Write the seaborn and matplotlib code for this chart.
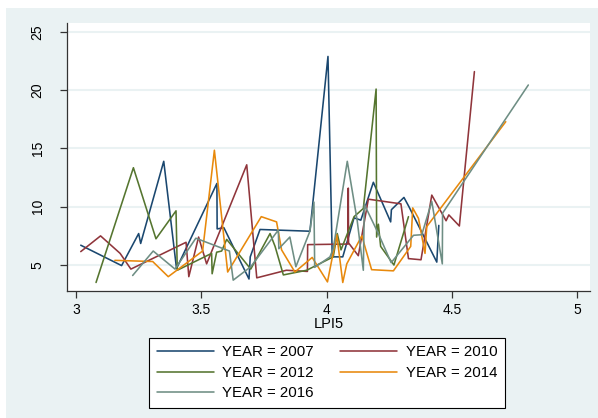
import matplotlib
matplotlib.use("Agg")
import matplotlib.pyplot as plt
from matplotlib.patches import Rectangle
import seaborn as sns
import pandas as pd

# LPI5 score and the charted value, one pair of arrays per survey year
lpi_2007 = [3.019, 3.182, 3.250, 3.258, 3.350, 3.401, 3.562, 3.563, 3.590, 3.690,
            3.695, 3.734, 3.933, 4.005, 4.022, 4.064, 4.109, 4.136, 4.186, 4.255,
            4.258, 4.308, 4.328, 4.439, 4.447]
val_2007 = [6.7, 4.95, 7.7, 6.85, 13.9, 4.7, 12.0, 8.1, 8.2, 3.8,
            5.7, 8.05, 7.9, 22.9, 5.7, 5.7, 9.05, 8.85, 12.1, 8.7,
            9.75, 10.8, 10.0, 5.25, 8.4]

lpi_2010 = [3.019, 3.098, 3.176, 3.219, 3.439, 3.450, 3.489, 3.521, 3.681, 3.721,
            3.839, 3.923, 3.924, 4.085, 4.086, 4.087, 4.126, 4.166, 4.296, 4.326,
            4.376, 4.419, 4.476, 4.487, 4.529, 4.589]
val_2010 = [6.15, 7.5, 6.0, 4.65, 6.95, 4.0, 7.4, 5.1, 13.6, 3.9,
            4.55, 4.45, 6.75, 6.8, 11.6, 6.9, 5.8, 10.65, 10.25, 5.55,
            5.45, 11.0, 8.8, 9.3, 8.35, 21.6]

lpi_2012 = [3.080, 3.229, 3.319, 3.399, 3.404, 3.541, 3.543, 3.561, 3.581, 3.601,
            3.697, 3.774, 3.794, 3.827, 3.920, 4.026, 4.042, 4.057, 4.109, 4.146,
            4.197, 4.199, 4.206, 4.215, 4.268, 4.326]
val_2012 = [3.5, 13.35, 7.25, 9.65, 4.55, 6.0, 4.25, 6.1, 6.2, 7.2,
            4.65, 7.7, 6.6, 4.15, 4.55, 5.7, 7.7, 6.3, 9.15, 9.85,
            20.1, 7.4, 8.5, 6.6, 5.0, 9.15]

lpi_2014 = [3.155, 3.306, 3.368, 3.505, 3.552, 3.605, 3.739, 3.800, 3.820, 3.873,
            3.942, 4.003, 4.040, 4.064, 4.080, 4.140, 4.179, 4.266, 4.335, 4.343,
            4.366, 4.392, 4.399, 4.714]
val_2014 = [5.4, 5.3, 4.0, 6.2, 14.85, 4.4, 9.15, 8.7, 6.3, 4.4,
            5.65, 3.55, 7.6, 3.5, 5.1, 7.5, 4.6, 4.5, 6.6, 9.9,
            9.0, 6.0, 8.3, 17.3]

lpi_2016 = [3.226, 3.308, 3.395, 3.478, 3.612, 3.627, 3.697, 3.807, 3.809, 3.853,
            3.877, 3.933, 3.949, 3.952, 4.013, 4.026, 4.082, 4.121, 4.146, 4.150,
            4.207, 4.257, 4.346, 4.379, 4.419, 4.461, 4.462, 4.804]
val_2016 = [4.1, 6.2, 4.65, 7.3, 6.2, 3.7, 4.85, 8.0, 6.4, 7.4,
            4.85, 7.9, 10.4, 4.8, 5.7, 6.4, 13.9, 8.9, 4.55, 10.2,
            7.65, 5.2, 7.55, 7.6, 10.45, 5.1, 9.45, 20.45]

years = [2007, 2010, 2012, 2014, 2016]
colors = ["#1a476f", "#90353b", "#55752f", "#e8890c", "#6e8e84"]
x_ticks = [3, 3.5, 4, 4.5, 5]
x_tick_labels = ["3", "3.5", "4", "4.5", "5"]
y_ticks = [5, 10, 15, 20, 25]

series = {2007: (lpi_2007, val_2007), 2010: (lpi_2010, val_2010),
          2012: (lpi_2012, val_2012), 2014: (lpi_2014, val_2014),
          2016: (lpi_2016, val_2016)}

rows = []
for yr in years:
    xs, vs = series[yr]
    for a, b in zip(xs, vs):
        rows.append({"LPI5": a, "value": b, "YEAR": f"YEAR = {yr}"})
df = pd.DataFrame(rows)
labels = [f"YEAR = {yr}" for yr in years]
palette = dict(zip(labels, colors))

sns.set_style("white")
plt.rcParams["font.family"] = ["Liberation Sans", "DejaVu Sans"]
plt.rcParams["text.color"] = "black"

bg = "#eaf2f3"
fig = plt.figure(figsize=(5.98, 4.18), dpi=100, facecolor="white")
fig.patches.append(Rectangle((6 / 598, 0), 1, 1 - 8 / 418, transform=fig.transFigure,
                             facecolor=bg, edgecolor="none", zorder=-10))
ax = fig.add_axes([66.7 / 598, 1 - 291 / 418, (590 - 66.7) / 598, (291 - 23) / 418])
ax.set_zorder(1)
ax.set_facecolor("white")

sns.lineplot(data=df, x="LPI5", y="value", hue="YEAR", hue_order=labels,
             palette=palette, estimator=None, sort=True, linewidth=1.15, ax=ax)

ax.set_xlim(2.963, 5.05)
ax.set_ylim(2.77, 25.77)
ax.set_xticks(x_ticks)
ax.set_yticks(y_ticks)
ax.grid(axis="y", color=bg, linewidth=1.5)
ax.grid(axis="x", visible=False)
ax.set_axisbelow(True)
for s in ["top", "right"]:
    ax.spines[s].set_visible(False)
for s in ["left", "bottom"]:
    ax.spines[s].set_color("#333333")
    ax.spines[s].set_linewidth(0.9)
ax.tick_params(axis="both", which="major", length=5, width=0.9, color="#333333",
               labelsize=10, labelcolor="black", left=True, bottom=True)
ax.tick_params(axis="y", pad=16)
ax.tick_params(axis="x", pad=4)
ax.set_xticklabels(x_tick_labels)
ax.set_yticklabels([str(t) for t in y_ticks], rotation=90, ha="center", va="center")
ax.set_xlabel("LPI5", fontsize=10.5, labelpad=0, color="black")
ax.set_ylabel("")

handles, labs = ax.get_legend_handles_labels()
ax.get_legend().remove()
# matplotlib fills legend columns first; order so rows read 2007/2010, 2012/2014, 2016
order = [0, 2, 4, 1, 3]
leg = fig.legend([handles[i] for i in order], [labs[i] for i in order], ncol=2,
                 loc="upper left", bbox_to_anchor=(149 / 598, 1 - 338 / 418),
                 borderaxespad=0, fontsize=10.8, handlelength=3.8,
                 handletextpad=0.6, columnspacing=1.7, labelspacing=0.42,
                 borderpad=0.5, frameon=True, fancybox=False, framealpha=1)
leg.get_frame().set_edgecolor("black")
leg.get_frame().set_linewidth(0.8)
for h in leg.legend_handles:
    h.set_linewidth(1.15)
for t in leg.get_texts():
    t.set_color("black")

fig.savefig("out.png", dpi=100, facecolor=fig.get_facecolor())
